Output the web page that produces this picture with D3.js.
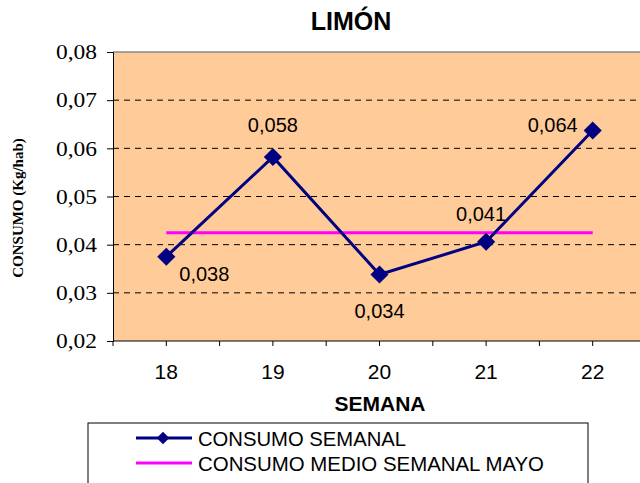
<!DOCTYPE html>
<html>
<head>
<meta charset="utf-8">
<script src="https://cdn.jsdelivr.net/npm/d3@7"></script>
<style>
  body { margin: 0; background: #fff; }
  svg { display: block; }
</style>
</head>
<body>
<div class="canvas"></div>
<script>
const semanas = ["18", "19", "20", "21", "22"];
const consumo = [0.0375, 0.0582, 0.0338, 0.0406, 0.0637];
const etiquetas = ["0,038", "0,058", "0,034", "0,041", "0,064"];
const medioMayo = 0.0425;
const yTicks = [0.02, 0.03, 0.04, 0.05, 0.06, 0.07, 0.08];

const sans = "'Liberation Sans', Arial, sans-serif";
const serif = "'Liberation Serif', 'Times New Roman', serif";

const svg = d3.select('.canvas')
  .append('svg')
  .attr('width', 640)
  .attr('height', 483);

const x = d3.scaleBand().domain(semanas).range([113, 646]);
const y = d3.scaleLinear().domain([0.02, 0.08]).range([341, 52]);
const fmt = d => d3.format(".2f")(d).replace(".", ",");

// plot area
svg.append("rect")
    .attr("x", x.range()[0]).attr("y", y(0.08))
    .attr("width", x.range()[1] - x.range()[0])
    .attr("height", y(0.02) - y(0.08))
    .style("fill", "#FFCC99");

// gridlines
svg.append("g").selectAll("line")
  .data(yTicks.filter(d => d > 0.02 && d < 0.08))
  .join("line")
    .attr("x1", x.range()[0]).attr("x2", 640)
    .attr("y1", d => y(d)).attr("y2", d => y(d))
    .style("stroke", "#000").style("stroke-dasharray", "6,5");

svg.append("line")
    .attr("x1", x.range()[0]).attr("x2", 640)
    .attr("y1", y(0.08)).attr("y2", y(0.08))
    .style("stroke", "#888").style("stroke-width", 1.5);

// y axis
const yAxis = svg.append("g")
    .attr("transform", `translate(${x.range()[0]},0)`)
    .call(d3.axisLeft(y).tickValues(yTicks).tickFormat(fmt).tickSize(6).tickPadding(10));
yAxis.select(".domain").style("stroke", "#000");
yAxis.selectAll("text")
    .attr("textLength", 41)
    .attr("lengthAdjust", "spacingAndGlyphs")
    .style("font-family", serif)
    .style("font-size", "21px").style("fill", "#000");

// x axis (ticks at every half category, like the original)
const halfTicks = d3.range(0, 2 * semanas.length + 1).map(i => x.range()[0] + i * x.step() / 2);
svg.append("line")
    .attr("x1", x.range()[0]).attr("x2", 640)
    .attr("y1", y(0.02)).attr("y2", y(0.02))
    .style("stroke", "#000").style("stroke-width", 1.2);
svg.append("g").selectAll("line")
  .data(halfTicks)
  .join("line")
    .attr("x1", d => d).attr("x2", d => d)
    .attr("y1", y(0.02)).attr("y2", y(0.02) + 5)
    .style("stroke", "#000");
svg.append("g").selectAll("text")
  .data(semanas)
  .join("text")
    .attr("x", d => x(d) + x.bandwidth() / 2)
    .attr("y", 379)
    .attr("text-anchor", "middle")
    .style("font-family", sans)
    .style("font-size", "21px")
    .text(d => d);

// titles
svg.append("text")
    .attr("x", 351).attr("y", 30)
    .attr("text-anchor", "middle")
    .style("font-family", sans)
    .style("font-size", "25px").style("font-weight", "bold")
    .text("LIMÓN");

svg.append("text")
    .attr("x", 380).attr("y", 411)
    .attr("text-anchor", "middle")
    .attr("textLength", 91)
    .attr("lengthAdjust", "spacingAndGlyphs")
    .style("font-family", sans)
    .style("font-size", "21px").style("font-weight", "bold")
    .text("SEMANA");

svg.append("text")
    .attr("transform", "translate(23,208) rotate(-90)")
    .attr("text-anchor", "middle")
    .style("font-family", serif)
    .style("font-size", "15px").style("font-weight", "bold")
    .text("CONSUMO  (Kg/hab)");

// mean line
const cx = d => x(d) + x.bandwidth() / 2;
svg.append("line")
    .attr("x1", cx(semanas[0])).attr("x2", cx(semanas[semanas.length - 1]))
    .attr("y1", y(medioMayo)).attr("y2", y(medioMayo))
    .style("stroke", "#FF00FF").style("stroke-width", 3);

// weekly line
const pts = semanas.map((s, i) => ({ s, v: consumo[i], lab: etiquetas[i] }));
svg.append("path")
    .datum(pts)
    .attr("d", d3.line().x(d => cx(d.s)).y(d => y(d.v)))
    .style("fill", "none").style("stroke", "#000080").style("stroke-width", 3);

svg.append("g").selectAll("path")
  .data(pts)
  .join("path")
    .attr("transform", d => `translate(${cx(d.s)},${y(d.v)})`)
    .attr("d", d3.symbol(d3.symbolDiamond2, 210)())
    .style("fill", "#000080");

// data labels
const labOff = [[38, 24], [0, -25], [0, 43], [-5, -21], [-40, 1]];
svg.append("g").selectAll("text")
  .data(pts)
  .join("text")
    .attr("x", (d, i) => cx(d.s) + labOff[i][0])
    .attr("y", (d, i) => y(d.v) + labOff[i][1])
    .attr("text-anchor", "middle")
    .style("font-family", sans)
    .style("font-size", "20px")
    .text(d => d.lab);

// legend
const leg = svg.append("g");
leg.append("rect")
    .attr("x", 88).attr("y", 423).attr("width", 500).attr("height", 70)
    .style("fill", "#fff").style("stroke", "#000").style("stroke-width", 1);
const legItems = [
  { name: "CONSUMO SEMANAL", color: "#000080", marker: true, w: 208 },
  { name: "CONSUMO MEDIO SEMANAL MAYO", color: "#FF00FF", marker: false, w: 346 }
];
legItems.forEach((it, i) => {
  const ly = 438 + i * 25;
  leg.append("line")
      .attr("x1", 136).attr("x2", 192).attr("y1", ly).attr("y2", ly)
      .style("stroke", it.color).style("stroke-width", 3);
  if (it.marker) {
    leg.append("path")
        .attr("transform", `translate(163,${ly})`)
        .attr("d", d3.symbol(d3.symbolDiamond2, 100)())
        .style("fill", it.color);
  }
  leg.append("text")
      .attr("x", 198).attr("y", ly + 8)
      .attr("textLength", it.w)
      .attr("lengthAdjust", "spacingAndGlyphs")
      .style("font-family", sans)
      .style("font-size", "21px")
      .text(it.name);
});
</script>
</body>
</html>
